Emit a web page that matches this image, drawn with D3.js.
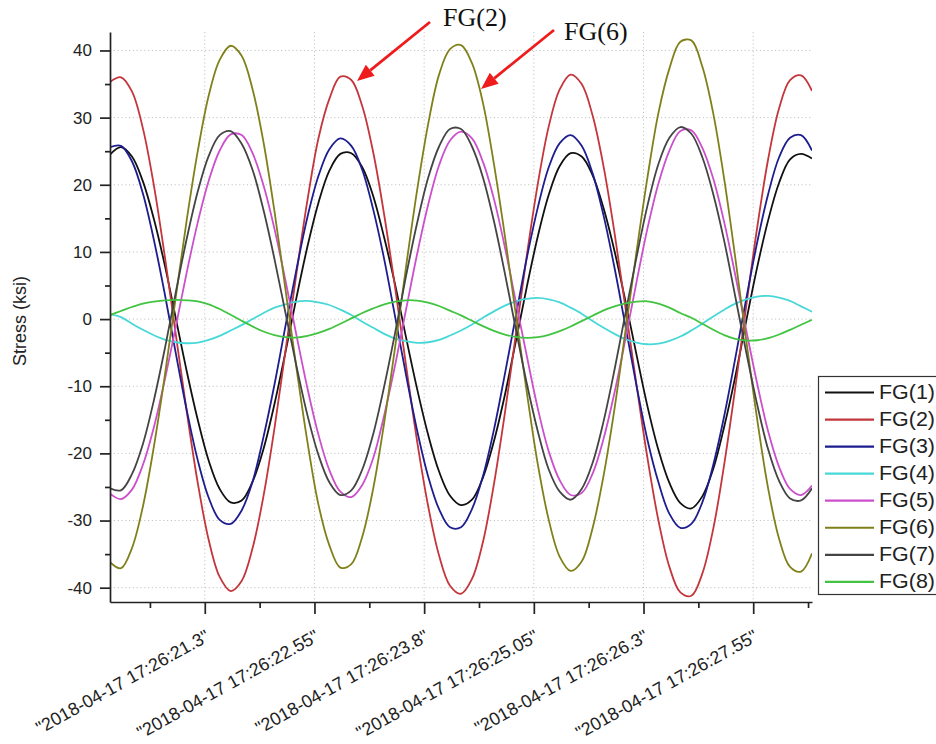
<!DOCTYPE html>
<html>
<head>
<meta charset="utf-8">
<script src="https://cdn.jsdelivr.net/npm/d3@7"></script>
<style>
  html, body { margin: 0; padding: 0; background: #fff; overflow: hidden; }
  svg { display: block; }
</style>
</head>
<body>
<svg id="chart" width="936" height="744"></svg>
<script>
// Stress records of eight flange gauges, sampled every 0.125 s from 17:26:20.22
const sampleStart = 20.22;
const sampleStep = 0.125;

const seriesNames = ["FG(1)", "FG(2)", "FG(3)", "FG(4)", "FG(5)", "FG(6)", "FG(7)", "FG(8)"];
const seriesColors = ["#111111", "#c3363b", "#1d1d8f", "#48d8d8", "#cc4fcc", "#80801a", "#444444", "#42c442"];

const fg1 = [24.5, 25.6, 24.2, 20.5, 14.9, 8.0, 0.1, -7.8, -15.0, -21.1,
  -25.3, -27.3, -27.0, -24.2, -19.3, -12.6, -4.9, 3.2, 10.8, 17.3,
  22.1, 24.6, 24.7, 22.6, 18.3, 12.1, 5.1, -2.8, -10.4, -17.2,
  -22.7, -26.3, -27.7, -26.9, -23.6, -18.2, -11.3, -3.3, 4.8, 12.3,
  18.5, 22.8, 24.7, 24.2, 21.4, 16.5, 10.1, 2.6, -5.3, -13.0,
  -19.5, -24.4, -27.4, -28.2, -26.4, -22.3, -16.0, -8.6, -0.3, 7.7,
  14.7, 20.3, 23.8, 24.6, 23.9];

const fg2 = [35.3, 36.0, 33.9, 28.4, 19.9, 9.3, -2.3, -13.8, -24.4, -32.9,
  -38.4, -40.5, -39.0, -34.1, -26.3, -16.2, -4.7, 6.8, 17.7, 26.9,
  32.8, 36.1, 35.6, 31.7, 24.8, 15.5, 4.6, -7.0, -18.2, -27.8,
  -35.2, -39.7, -40.9, -38.7, -33.2, -24.6, -14.0, -2.3, 9.5, 20.1,
  28.7, 34.2, 36.4, 35.0, 30.3, 22.7, 12.8, 1.6, -9.8, -20.7,
  -30.0, -36.9, -40.7, -41.2, -37.9, -31.2, -21.6, -10.3, 1.9, 13.6,
  23.8, 31.4, 35.6, 36.3, 34.0];

const fg3 = [25.6, 25.8, 23.5, 18.7, 11.8, 3.7, -5.1, -13.6, -21.0, -26.6,
  -29.9, -30.5, -28.5, -24.2, -17.5, -9.7, -1.0, 7.4, 15.2, 21.3,
  25.3, 26.9, 25.8, 22.2, 16.3, 8.9, 0.3, -8.4, -16.6, -23.4,
  -28.3, -31.0, -31.0, -28.3, -23.4, -16.5, -8.2, 0.5, 9.1, 16.6,
  22.6, 26.2, 27.4, 25.8, 21.7, 15.4, 7.6, -1.1, -9.9, -18.0,
  -24.3, -29.0, -31.1, -30.5, -27.3, -21.7, -14.4, -5.9, 3.0, 11.4,
  18.6, 24.1, 27.0, 27.4, 25.1];

const fg4 = [0.7, 0.3, -0.7, -1.6, -2.4, -3.05, -3.45, -3.6, -3.5, -3.1,
  -2.5, -1.7, -0.9, 0.0, 0.9, 1.7, 2.2, 2.6, 2.7, 2.5,
  2.1, 1.4, 0.6, -0.4, -1.3, -2.2, -2.9, -3.3, -3.55, -3.45,
  -3.1, -2.45, -1.7, -0.8, 0.2, 1.15, 2.0, 2.65, 3.0, 3.15,
  2.95, 2.5, 1.7, 0.8, -0.3, -1.3, -2.2, -3.0, -3.5, -3.75,
  -3.65, -3.25, -2.6, -1.7, -0.7, 0.4, 1.4, 2.3, 2.95, 3.35,
  3.45, 3.2, 2.7, 1.9, 1.1];

const fg5 = [-26.0, -26.8, -25.4, -21.7, -16.1, -9.0, -1.1, 7.0, 14.4, 20.6,
  25.1, 27.5, 27.4, 24.7, 19.9, 13.4, 5.7, -2.4, -10.3, -17.2,
  -22.5, -25.7, -26.5, -24.7, -20.7, -14.3, -6.8, 1.5, 9.7, 17.0,
  22.9, 26.6, 27.9, 26.9, 23.4, 17.9, 10.7, 2.6, -5.5, -13.3,
  -19.7, -24.0, -26.2, -25.9, -23.0, -17.8, -10.9, -2.9, 5.5, 13.5,
  20.2, 25.1, 28.0, 28.1, 25.5, 20.9, 14.4, 6.6, -1.6, -9.6,
  -16.7, -22.0, -25.3, -26.2, -24.8];

const fg6 = [-36.2, -37.1, -34.1, -27.9, -19.0, -8.4, 3.3, 14.8, 25.0, 33.3,
  38.6, 40.7, 39.2, 34.2, 26.3, 16.0, 4.4, -7.3, -18.3, -27.6,
  -33.7, -37.0, -36.5, -32.4, -25.2, -15.4, -4.1, 7.9, 19.2, 29.0,
  36.4, 40.2, 40.8, 38.1, 32.2, 23.1, 12.4, 0.7, -10.9, -21.6,
  -29.9, -35.4, -37.5, -36.1, -31.1, -23.3, -13.3, -1.7, 10.0, 21.1,
  30.7, 37.3, 41.3, 41.5, 37.6, 30.6, 20.8, 9.2, -3.1, -14.9,
  -25.2, -32.7, -36.9, -37.6, -34.9];

const fg7 = [-25.2, -25.5, -23.1, -18.6, -12.1, -4.4, 4.0, 12.0, 19.0, 24.3,
  27.4, 28.0, 26.1, 22.2, 16.2, 8.9, 0.9, -7.0, -14.3, -20.2,
  -24.3, -26.2, -25.5, -22.4, -17.1, -10.0, -2.0, 6.5, 14.3, 21.0,
  25.7, 28.3, 28.3, 25.7, 21.1, 14.6, 6.8, -1.5, -9.6, -16.7,
  -22.4, -25.7, -26.9, -25.3, -21.4, -15.2, -7.5, 0.9, 9.2, 16.9,
  23.1, 27.0, 28.6, 27.6, 24.1, 18.6, 11.6, 3.4, -4.9, -12.7,
  -19.4, -24.1, -26.7, -27.0, -25.2];

const fg8 = [0.6, 1.2, 1.8, 2.3, 2.6, 2.8, 2.85, 2.8, 2.65, 2.2,
  1.5, 0.65, -0.25, -1.1, -1.85, -2.4, -2.7, -2.75, -2.5, -2.05,
  -1.45, -0.7, 0.1, 0.9, 1.6, 2.2, 2.6, 2.8, 2.75, 2.45,
  1.95, 1.25, 0.55, -0.25, -1.05, -1.75, -2.3, -2.65, -2.8, -2.7,
  -2.35, -1.8, -1.1, -0.3, 0.5, 1.3, 1.9, 2.35, 2.6, 2.65,
  2.3, 1.7, 0.9, 0.2, -0.7, -1.6, -2.4, -2.95, -3.2, -3.15,
  -2.85, -2.3, -1.6, -0.85, -0.1];

const seriesValues = [fg1, fg2, fg3, fg4, fg5, fg6, fg7, fg8];

// Axis ticks (seconds past 17:26 for the time axis)
const xTickValues = [21.3, 22.55, 23.8, 25.05, 26.3, 27.55];
const xTickLabels = ['"2018-04-17 17:26:21.3"', '"2018-04-17 17:26:22.55"', '"2018-04-17 17:26:23.8"',
  '"2018-04-17 17:26:25.05"', '"2018-04-17 17:26:26.3"', '"2018-04-17 17:26:27.55"'];
const xMinorTicks = [20.675, 21.925, 23.175, 24.425, 25.675, 26.925, 28.175];
const yTickValues = [-40, -30, -20, -10, 0, 10, 20, 30, 40];
const yMinorTicks = [-35, -25, -15, -5, 5, 15, 25, 35];

// Callouts
const callouts = [
  { text: "FG(2)", tx: 443, ty: 26, from: [430, 22], to: [357, 81] },
  { text: "FG(6)", tx: 564, ty: 40, from: [554, 30], to: [481, 89] }
];

const sans = "'Liberation Sans', Arial, Helvetica, sans-serif";
const serif = "'Liberation Serif', 'Times New Roman', serif";
const axisColor = "#222";

const svg = d3.select("#chart");
const plot = { left: 110, right: 812, top: 32, bottom: 602 };

const x = d3.scaleLinear().domain([20.22, 28.22]).range([plot.left, plot.right]);
const y = d3.scaleLinear().domain([-42.13, 42.75]).range([plot.bottom, plot.top]);

const times = seriesValues[0].map((_, i) => sampleStart + i * sampleStep);

// Dotted grid
const grid = svg.append("g").attr("stroke", "#c4c4c4").attr("stroke-width", 1)
  .attr("stroke-dasharray", "1.2,2.6");
grid.selectAll("line.v").data(xTickValues).join("line").attr("class", "v")
  .attr("x1", d => x(d)).attr("x2", d => x(d))
  .attr("y1", plot.top).attr("y2", plot.bottom);
grid.selectAll("line.h").data(yTickValues).join("line").attr("class", "h")
  .attr("x1", plot.left).attr("x2", plot.right)
  .attr("y1", d => y(d)).attr("y2", d => y(d));

// Series lines
svg.append("clipPath").attr("id", "plotClip").append("rect")
  .attr("x", plot.left).attr("y", plot.top)
  .attr("width", plot.right - plot.left).attr("height", plot.bottom - plot.top);

const line = d3.line()
  .x((d, i) => x(times[i]))
  .y(d => y(d))
  .curve(d3.curveCatmullRom.alpha(0.5));

svg.append("g").attr("clip-path", "url(#plotClip)")
  .selectAll("path").data(seriesValues).join("path")
  .attr("d", d => line(d))
  .attr("fill", "none")
  .attr("stroke", (d, i) => seriesColors[i])
  .attr("stroke-width", 1.8)
  .attr("stroke-linejoin", "round");

// Y axis (plain hyphen for negative labels)
const yAxis = svg.append("g").attr("transform", `translate(${plot.left},0)`)
  .call(d3.axisLeft(y).tickValues(yTickValues).tickSize(10).tickSizeOuter(0).tickPadding(8)
    .tickFormat(d => String(d)));
const yMinor = svg.append("g").attr("transform", `translate(${plot.left},0)`)
  .call(d3.axisLeft(y).tickValues(yMinorTicks).tickSize(5).tickFormat(""));
yMinor.select(".domain").remove();

// X axis
const xAxis = svg.append("g").attr("transform", `translate(0,${plot.bottom})`)
  .call(d3.axisBottom(x).tickValues(xTickValues).tickSize(12).tickSizeOuter(0).tickFormat(""));
const xMinor = svg.append("g").attr("transform", `translate(0,${plot.bottom})`)
  .call(d3.axisBottom(x).tickValues(xMinorTicks).tickSize(6).tickFormat(""));
xMinor.select(".domain").remove();

[yAxis, yMinor, xAxis, xMinor].forEach(g => {
  g.selectAll("path, line").attr("stroke", axisColor).attr("stroke-width", 1.7);
});
yAxis.selectAll("text").attr("font-family", sans).attr("font-size", 17).attr("fill", axisColor);

// Rotated time labels
svg.append("g").selectAll("text").data(xTickValues).join("text")
  .attr("transform", d => `translate(${x(d) + 6},${plot.bottom + 38}) rotate(-29)`)
  .attr("text-anchor", "end")
  .attr("font-family", sans).attr("font-size", 18).attr("fill", axisColor)
  .text((d, i) => xTickLabels[i]);

// Y axis title
svg.append("text")
  .attr("transform", `translate(26,321) rotate(-90)`)
  .attr("text-anchor", "middle")
  .attr("font-family", sans).attr("font-size", 18).attr("fill", axisColor)
  .text("Stress (ksi)");

// Legend
const legend = svg.append("g");
legend.append("rect")
  .attr("x", 818.5).attr("y", 376.5).attr("width", 140).attr("height", 218)
  .attr("fill", "#fff").attr("stroke", "#333").attr("stroke-width", 1.2);
const rows = legend.selectAll("g.row").data(seriesNames).join("g").attr("class", "row")
  .attr("transform", (d, i) => `translate(0,${392.5 + i * 27.05})`);
rows.append("line").attr("x1", 825).attr("x2", 874).attr("y1", 0).attr("y2", 0)
  .attr("stroke", (d, i) => seriesColors[i]).attr("stroke-width", 2.2);
rows.append("text").attr("x", 879).attr("y", 6.5)
  .attr("font-family", sans).attr("font-size", 19.5).attr("fill", axisColor)
  .attr("textLength", 56).attr("lengthAdjust", "spacingAndGlyphs")
  .text(d => d);

// Callouts with red arrows
const notes = svg.append("g");
callouts.forEach(c => {
  const [x0, y0] = c.from, [x1, y1] = c.to;
  const ang = Math.atan2(y1 - y0, x1 - x0);
  const headLen = 17, headHalf = 7;
  const bx = x1 - headLen * Math.cos(ang), by = y1 - headLen * Math.sin(ang);
  notes.append("line").attr("x1", x0).attr("y1", y0).attr("x2", bx).attr("y2", by)
    .attr("stroke", "#ee1c1c").attr("stroke-width", 2.8);
  const px = -Math.sin(ang), py = Math.cos(ang);
  notes.append("polygon")
    .attr("points", [[x1, y1], [bx + px * headHalf, by + py * headHalf], [bx - px * headHalf, by - py * headHalf]]
      .map(p => p.join(",")).join(" "))
    .attr("fill", "#ee1c1c");
  notes.append("text").attr("x", c.tx).attr("y", c.ty)
    .attr("font-family", serif).attr("font-size", 26).attr("fill", "#111")
    .text(c.text);
});
</script>
</body>
</html>
